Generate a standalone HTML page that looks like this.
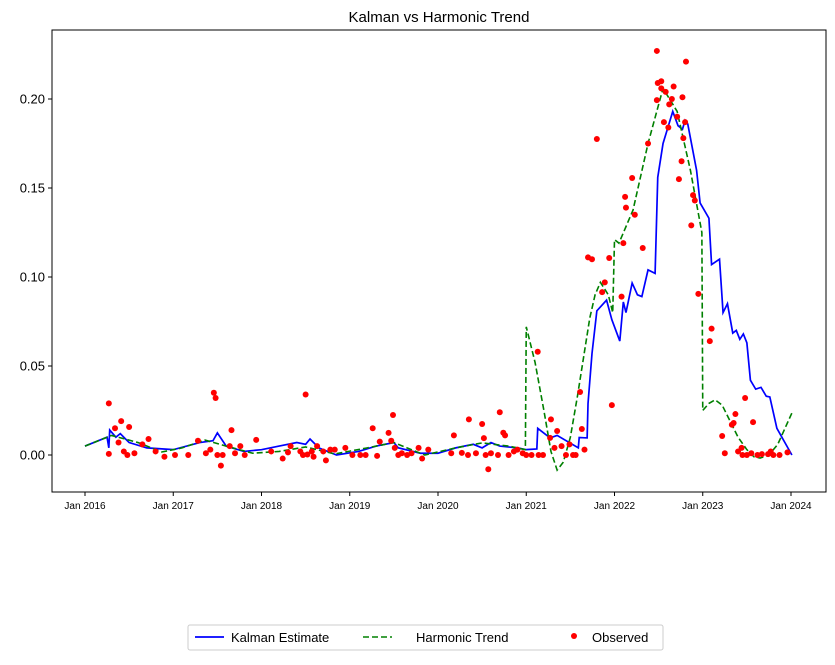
<!DOCTYPE html>
<html><head><meta charset="utf-8"><style>
body{margin:0;background:#fff;font-family:"Liberation Sans","DejaVu Sans",sans-serif}
</style></head><body>
<svg id="chart" width="835" height="660" xmlns="http://www.w3.org/2000/svg" font-family="Liberation Sans, DejaVu Sans, sans-serif">
<rect width="835" height="660" fill="#fff"/>
<text x="439" y="22" text-anchor="middle" font-size="15">Kalman vs Harmonic Trend</text>
<g id="plot"></g>
<rect x="52" y="30" width="774" height="462" fill="none" stroke="#000" stroke-width="1"/>
<g>
<rect x="188" y="625" width="475" height="25" fill="#fff" stroke="#ccc" rx="2"/>
<g><line x1="195" y1="637" x2="224" y2="637" stroke="blue" stroke-width="1.8"/><text x="231" y="642" font-size="13">Kalman Estimate</text></g>
<g><line x1="363" y1="637" x2="392" y2="637" stroke="green" stroke-width="1.6" stroke-dasharray="6,3"/><text x="416" y="642" font-size="13">Harmonic Trend</text></g>
<g><circle cx="574" cy="636" r="3" fill="red"/><text x="592" y="642" font-size="13">Observed</text></g>
</g>
</svg>
<script>
const yTicks=[0.00,0.05,0.10,0.15,0.20];
const yTickLabels=["0.00","0.05","0.10","0.15","0.20"];
const xTicks=[2016,2017,2018,2019,2020,2021,2022,2023,2024];
const xTickLabels=["Jan 2016","Jan 2017","Jan 2018","Jan 2019","Jan 2020","Jan 2021","Jan 2022","Jan 2023","Jan 2024"];
const kalmanT=[2016.0,2016.25,2016.27,2016.28,2016.35,2016.4,2016.5,2016.7,2017.0,2017.3,2017.45,2017.5,2017.6,2017.8,2018.0,2018.2,2018.4,2018.5,2018.55,2018.65,2018.85,2019.1,2019.3,2019.5,2019.55,2019.8,2020.0,2020.2,2020.4,2020.5,2020.6,2020.7,2020.9,2021.0,2021.12,2021.13,2021.27,2021.35,2021.59,2021.6,2021.69,2021.7,2021.745,2021.8,2021.91,2021.97,2022.06,2022.1,2022.13,2022.2,2022.26,2022.31,2022.38,2022.46,2022.49,2022.55,2022.66,2022.72,2022.77,2022.8,2022.83,2022.88,2022.93,2022.97,2023.07,2023.1,2023.19,2023.23,2023.28,2023.34,2023.38,2023.42,2023.46,2023.5,2023.54,2023.6,2023.66,2023.72,2023.76,2023.84,2024.01];
const kalmanV=[0.005,0.01,0.004,0.014,0.01,0.012,0.007,0.004,0.003,0.007,0.008,0.0124,0.005,0.002,0.003,0.005,0.007,0.006,0.009,0.004,0.0,0.002,0.005,0.007,0.004,0.001,0.001,0.004,0.006,0.004,0.007,0.005,0.004,0.003,0.0034,0.015,0.0096,0.011,0.004,0.0098,0.0096,0.029,0.057,0.081,0.087,0.076,0.064,0.086,0.08,0.0966,0.09,0.089,0.104,0.102,0.156,0.175,0.193,0.185,0.183,0.188,0.186,0.173,0.16,0.1416,0.133,0.107,0.11,0.08,0.085,0.0685,0.07,0.065,0.068,0.063,0.042,0.037,0.038,0.033,0.0326,0.015,0.0];
const harmT=[2016.0,2016.3,2016.6,2016.87,2017.1,2017.36,2017.6,2017.9,2018.2,2018.5,2018.83,2019.2,2019.5,2019.85,2020.2,2020.5,2020.8,2020.99,2021.0,2021.1,2021.2,2021.28,2021.35,2021.42,2021.5,2021.58,2021.65,2021.72,2021.78,2021.84,2021.93,2021.98,2022.0,2022.05,2022.21,2022.38,2022.55,2022.71,2022.86,2022.99,2023.0,2023.07,2023.14,2023.22,2023.3,2023.4,2023.5,2023.58,2023.65,2023.75,2023.85,2024.01];
const harmV=[0.005,0.011,0.007,0.0017,0.004,0.0084,0.005,0.001,0.002,0.0045,0.0006,0.004,0.007,0.0,0.004,0.0068,0.005,0.003,0.072,0.052,0.025,0.002,-0.0085,-0.004,0.01,0.033,0.055,0.077,0.09,0.097,0.09,0.08,0.121,0.119,0.1376,0.175,0.206,0.193,0.16,0.125,0.025,0.029,0.031,0.028,0.02,0.01,0.003,-0.001,-0.0017,0.0,0.006,0.0236];
const obsT=[2016.27,2016.27,2016.34,2016.41,2016.38,2016.5,2016.44,2016.48,2016.56,2016.65,2016.72,2016.8,2016.9,2017.02,2017.17,2017.28,2017.37,2017.46,2017.48,2017.42,2017.5,2017.54,2017.56,2017.66,2017.64,2017.7,2017.76,2017.81,2017.94,2018.11,2018.24,2018.3,2018.33,2018.44,2018.5,2018.47,2018.52,2018.57,2018.59,2018.63,2018.7,2018.73,2018.78,2018.83,2018.95,2019.03,2019.12,2019.26,2019.18,2019.31,2019.34,2019.44,2019.49,2019.47,2019.51,2019.55,2019.59,2019.65,2019.7,2019.78,2019.82,2019.89,2020.15,2020.18,2020.27,2020.35,2020.34,2020.43,2020.5,2020.52,2020.57,2020.54,2020.6,2020.7,2020.68,2020.74,2020.76,2020.8,2020.86,2020.9,2020.96,2021.0,2021.06,2021.13,2021.14,2021.19,2021.27,2021.28,2021.32,2021.35,2021.4,2021.45,2021.49,2021.53,2021.56,2021.61,2021.63,2021.66,2021.7,2021.745,2021.8,2021.86,2021.89,2021.94,2021.97,2022.08,2022.1,2022.12,2022.13,2022.2,2022.23,2022.32,2022.38,2022.48,2022.48,2022.49,2022.53,2022.53,2022.58,2022.56,2022.61,2022.62,2022.65,2022.67,2022.71,2022.73,2022.76,2022.77,2022.78,2022.81,2022.8,2022.87,2022.89,2022.91,2022.95,2023.08,2023.1,2023.22,2023.25,2023.33,2023.35,2023.37,2023.4,2023.48,2023.44,2023.45,2023.5,2023.57,2023.55,2023.62,2023.67,2023.74,2023.77,2023.8,2023.87,2023.96];
const obsV=[0.029,0.0006,0.015,0.019,0.007,0.0157,0.002,0.0,0.001,0.006,0.009,0.002,-0.001,0.0,0.0,0.008,0.001,0.035,0.032,0.003,0.0,-0.006,0.0,0.014,0.005,0.001,0.005,0.0,0.0085,0.002,-0.002,0.0015,0.005,0.002,0.034,0.0,0.0003,0.002,-0.001,0.005,0.002,-0.003,0.003,0.003,0.004,0.0,0.0,0.015,0.0,-0.0005,0.0075,0.0124,0.0225,0.008,0.004,0.0,0.001,0.0,0.001,0.004,-0.002,0.003,0.001,0.011,0.0012,0.02,0.0,0.001,0.0174,0.0095,-0.008,0.0,0.001,0.024,0.0,0.0125,0.011,0.0,0.002,0.003,0.001,0.0,0.0,0.058,0.0,0.0,0.0096,0.02,0.004,0.0135,0.005,0.0,0.006,0.0,0.0,0.0354,0.0146,0.003,0.111,0.11,0.1775,0.0915,0.097,0.1107,0.028,0.089,0.119,0.145,0.139,0.1556,0.135,0.1163,0.175,0.1994,0.227,0.209,0.21,0.206,0.204,0.187,0.184,0.197,0.2,0.207,0.19,0.155,0.165,0.201,0.178,0.221,0.187,0.129,0.146,0.143,0.0905,0.064,0.071,0.0107,0.001,0.017,0.018,0.023,0.002,0.032,0.004,0.0,0.0,0.0185,0.001,0.0,0.0005,0.0005,0.002,0.0,0.0,0.0015];

const NS="http://www.w3.org/2000/svg";
const X=t=>85+(t-2016)*88.25;
const Y=v=>455-v*1780;
const svg=document.getElementById('chart');
const plot=document.getElementById('plot');
function mk(tag,attrs,parent){const e=document.createElementNS(NS,tag);for(const k in attrs)e.setAttribute(k,attrs[k]);(parent||svg).appendChild(e);return e;}
yTicks.forEach((v,i)=>{
  const g=mk('g',{});
  
  
  mk('line',{x1:48,x2:52,y1:Y(v),y2:Y(v),stroke:'#000'},g);
  const t=mk('text',{x:45,y:Y(v)+4.5,'text-anchor':'end','font-size':13},g);t.textContent=yTickLabels[i];
});
xTicks.forEach((v,i)=>{
  const g=mk('g',{});
  
  
  mk('line',{x1:X(v),x2:X(v),y1:492,y2:496,stroke:'#000'},g);
  const t=mk('text',{x:X(v),y:509,'text-anchor':'middle','font-size':10},g);t.textContent=xTickLabels[i];
});
const kp=mk('polyline',{points:kalmanT.map((t,i)=>X(t)+','+Y(kalmanV[i])).join(' '),fill:'none',stroke:'blue','stroke-width':1.7},plot);


const hp=mk('polyline',{points:harmT.map((t,i)=>X(t)+','+Y(harmV[i])).join(' '),fill:'none',stroke:'green','stroke-width':1.6,'stroke-dasharray':'6,3'},plot);


obsT.forEach((t,i)=>{
  const c=mk('circle',{cx:X(t),cy:Y(obsV[i]),r:3,fill:'red'},plot);
  
  
});
</script>
</body></html>
